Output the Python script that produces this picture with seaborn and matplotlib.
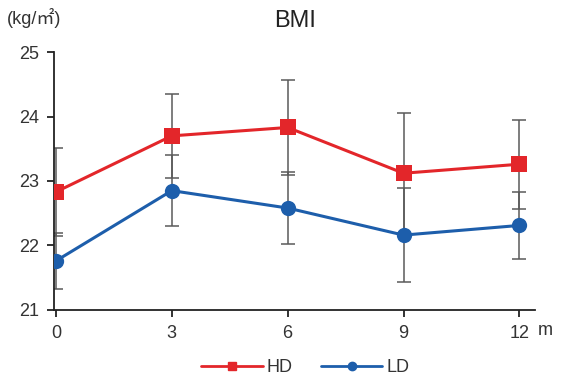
import numpy as np
import pandas as pd
import matplotlib
matplotlib.use("Agg")
import matplotlib.pyplot as plt
import seaborn as sns

# data
months = [0, 3, 6, 9, 12]
hd_mean = [22.83, 23.70, 23.83, 23.12, 23.26]
hd_err = [0.68, 0.65, 0.74, 0.93, 0.69]
ld_mean = [21.76, 22.85, 22.58, 22.16, 22.31]
ld_err = [0.44, 0.55, 0.56, 0.73, 0.52]
groups = ["HD", "LD"]

df = pd.DataFrame({
    "month": months * 2,
    "bmi": hd_mean + ld_mean,
    "err": hd_err + ld_err,
    "group": ["HD"] * 5 + ["LD"] * 5,
})

sns.set_style("white")
plt.rcParams["font.family"] = ["Liberation Sans", "Noto Sans CJK JP", "DejaVu Sans"]

fig = plt.figure(figsize=(5.65, 3.83), dpi=100)
ax = fig.add_axes([0.0956, 0.191, 0.851, 0.673])

palette = {"HD": "#e3262a", "LD": "#1d5eab"}
markers = {"HD": "s", "LD": "o"}

# error bars underneath
for g in groups:
    sub = df[df["group"] == g]
    ax.errorbar(sub["month"], sub["bmi"], yerr=sub["err"], fmt="none",
                ecolor="#5a5a5a", elinewidth=1.1, capsize=5, capthick=1.1, zorder=1)

sns.lineplot(data=df, x="month", y="bmi", hue="group", style="group",
             palette=palette, markers=markers, dashes=False, linewidth=2.2,
             markersize=11, markeredgewidth=0, ax=ax, zorder=3, legend=False)

ax.set_xlim(-0.05, 12.4)
ax.set_ylim(21, 25)
ax.set_xticks(months)
ax.set_yticks([21, 22, 23, 24, 25])
ax.set_xlabel("")
ax.set_ylabel("")
sns.despine(ax=ax)
for s in ["left", "bottom"]:
    ax.spines[s].set_color("#222222")
    ax.spines[s].set_linewidth(1.3)
ax.tick_params(axis="both", direction="out", length=5, width=1.3, color="#222222",
               labelsize=13, labelcolor="#333333", left=True, bottom=True, pad=6)

fig.text(0.523, 0.945, "BMI", ha="center", va="center", fontsize=17, color="#222222")
fig.text(0.012, 0.953, "(kg/㎡)", ha="left", va="center", fontsize=13, color="#333333")
fig.text(0.965, 0.137, "m", ha="center", va="center", fontsize=13, color="#333333")

handles = [
    plt.Line2D([], [], color=palette["HD"], marker="s", markersize=6, linewidth=2.0),
    plt.Line2D([], [], color=palette["LD"], marker="o", markersize=6, linewidth=2.0),
]
fig.legend(handles, groups, loc="center", bbox_to_anchor=(0.54, 0.04), ncol=2,
           frameon=False, fontsize=13, handlelength=3.4, handletextpad=0.2,
           columnspacing=1.6, labelcolor="#333333")

fig.savefig("out.png", dpi=100)
